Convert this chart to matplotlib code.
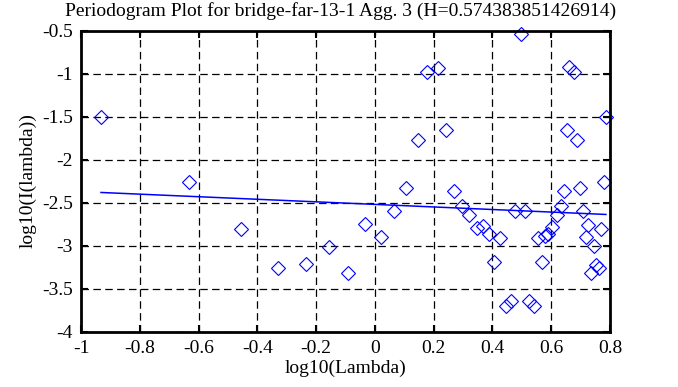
import numpy as np
import matplotlib
matplotlib.use('Agg')
import matplotlib.pyplot as plt
from matplotlib.ticker import FuncFormatter

# periodogram points (log10 lambda, log10 I(lambda))
log_lambda = [-0.932, -0.633, -0.455, -0.331, -0.235, -0.155, -0.090, -0.032,
              0.020, 0.066, 0.105, 0.146, 0.179, 0.214, 0.241, 0.269, 0.295,
              0.319, 0.346, 0.368, 0.388, 0.406, 0.425, 0.446, 0.463, 0.478,
              0.497, 0.512, 0.525, 0.542, 0.554, 0.569, 0.578, 0.588, 0.601,
              0.621, 0.632, 0.643, 0.653, 0.660, 0.676, 0.687, 0.697, 0.708,
              0.717, 0.726, 0.735, 0.745, 0.754, 0.762, 0.769, 0.780, 0.786]
log_I = [-1.506, -2.26, -2.81, -3.258, -3.21, -3.02, -3.32, -2.754,
         -2.90, -2.60, -2.335, -1.773, -0.983, -0.932, -1.657, -2.363, -2.54,
         -2.645, -2.80, -2.77, -2.87, -3.19, -2.91, -3.70, -3.64, -2.60,
         -0.54, -2.60, -3.64, -3.70, -2.91, -3.19, -2.89, -2.866, -2.78,
         -2.64, -2.537, -2.366, -1.657, -0.93, -0.986, -1.773, -2.335, -2.60,
         -2.905, -2.76, -3.32, -3.01, -3.227, -3.265, -2.81, -2.26, -1.51]

H = 0.574383851426914
fit_slope = 1 - 2 * H
fit_intercept = -2.522

plt.rcParams['font.family'] = ['Liberation Serif', 'DejaVu Serif']

def fmt(v, p):
    return '%g' % (round(v, 2) + 0.0)

fig = plt.figure(figsize=(6.78, 3.87), dpi=100)
ax = fig.add_axes([81/678, 1 - 331.5/387, 529/678, 301/387])

ax.grid(True, color='black', linestyle=(0, (6, 3.5)), linewidth=0.9)
ax.set_axisbelow(True)

ax.plot(log_lambda, log_I, 'D', color='blue', fillstyle='none',
        markersize=7, markeredgewidth=0.8, clip_on=False)

xfit = np.array([min(log_lambda), max(log_lambda)])
ax.plot(xfit, fit_intercept + fit_slope * xfit, color='blue', linewidth=1.1)

ax.set_xlim(-1, 0.8)
ax.set_ylim(-4, -0.5)
ax.set_xticks(np.arange(-1, 0.81, 0.2))
ax.set_yticks(np.arange(-4, -0.49, 0.5))
ax.xaxis.set_major_formatter(FuncFormatter(fmt))
ax.yaxis.set_major_formatter(FuncFormatter(fmt))
ax.tick_params(direction='in', length=5, width=1.5, top=True, right=True,
               labelsize=14, pad=6)
for s in ax.spines.values():
    s.set_linewidth(2)

ax.set_xlabel('log10(Lambda)', fontsize=14, labelpad=2)
ax.set_ylabel('log10(I(lambda))', fontsize=14, labelpad=4)
fig.text(341/678, 1 - 11/387,
         'Periodogram Plot for bridge-far-13-1 Agg. 3 (H=%s)' % H,
         ha='center', va='center', fontsize=14)

fig.savefig('out.png', dpi=100)
